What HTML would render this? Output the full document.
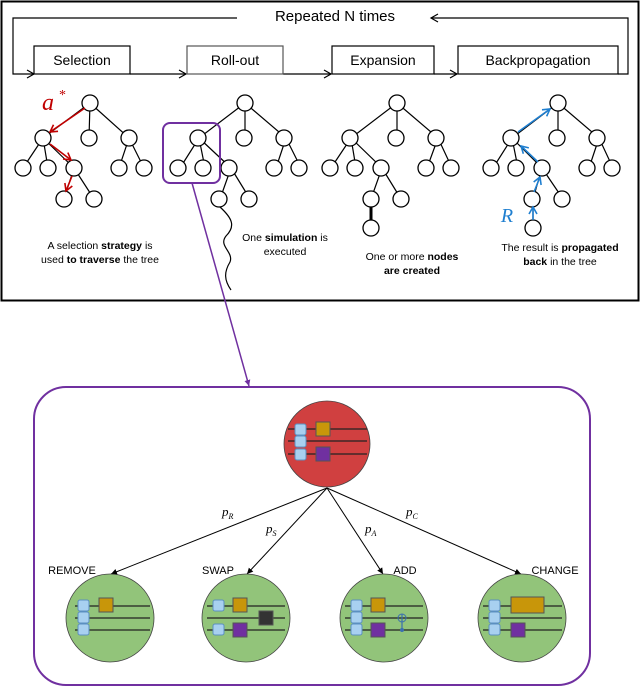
<!DOCTYPE html>
<html><head><meta charset="utf-8"><style>
body{margin:0;background:#fff;}
svg{display:block;font-family:"Liberation Sans",sans-serif;}
</style></head><body>
<svg width="640" height="687" viewBox="0 0 640 687" xmlns="http://www.w3.org/2000/svg">
<defs>
<marker id="oa" markerWidth="10" markerHeight="10" refX="8" refY="5" orient="auto" markerUnits="userSpaceOnUse"><path d="M1,1 L8,5 L1,9" fill="none" stroke="#000" stroke-width="1.2"/></marker>
<marker id="ra" markerWidth="10" markerHeight="10" refX="8" refY="5" orient="auto" markerUnits="userSpaceOnUse"><path d="M1,1 L8,5 L1,9" fill="none" stroke="#c00000" stroke-width="1.6"/></marker>
<marker id="ba" markerWidth="10" markerHeight="10" refX="8" refY="5" orient="auto" markerUnits="userSpaceOnUse"><path d="M1,1 L8,5 L1,9" fill="none" stroke="#1f7fd0" stroke-width="1.6"/></marker>
<marker id="sa" markerWidth="8" markerHeight="8" refX="6" refY="4" orient="auto" markerUnits="userSpaceOnUse"><path d="M0,1 L6,4 L0,7 z" fill="#000"/></marker>
<marker id="pa" markerWidth="8" markerHeight="8" refX="6" refY="4" orient="auto" markerUnits="userSpaceOnUse"><path d="M0,1 L6,4 L0,7 z" fill="#7030a0"/></marker>
</defs>
<rect x="1.5" y="1.5" width="637" height="299" fill="none" stroke="#000" stroke-width="2"/>
<text x="335" y="21" font-size="15" text-anchor="middle">Repeated N times</text>
<g fill="none" stroke="#000" stroke-width="1.2">
<path d="M237,18 H13 V74 H34" marker-end="url(#oa)"/>
<path d="M618,74 H628 V18 H431" marker-end="url(#oa)"/>
<path d="M130,74 H186" marker-end="url(#oa)"/>
<path d="M283,74 H331" marker-end="url(#oa)"/>
<path d="M434,74 H457" marker-end="url(#oa)"/>
</g>
<g fill="#fff" stroke="#000" stroke-width="1.2">
<rect x="34" y="46" width="96" height="28"/>
<rect x="187" y="46" width="96" height="28" stroke="#555"/>
<rect x="332" y="46" width="102" height="28"/>
<rect x="458" y="46" width="160" height="28"/>
</g>
<g font-size="14" text-anchor="middle">
<text x="82" y="65">Selection</text><text x="235" y="65">Roll-out</text>
<text x="383" y="65">Expansion</text><text x="538" y="65">Backpropagation</text>
</g>
<g stroke="#000" stroke-width="1.2" fill="none">
<path d="M90,103 L43,138 M90,103 L89,138 M90,103 L129,138 M43,138 L23,168 M43,138 L48,168 M43,138 L74,168 M129,138 L119,168 M129,138 L144,168 M74,168 L64,199 M74,168 L94,199"/>
<path d="M245,103 L199,138 M245,103 L245,138 M245,103 L286,138 M199,138 L180,168 M199,138 L205,168 M199,138 L231,168 M286,138 L276,168 M286,138 L301,168 M231,168 L220,199 M231,168 L250,199"/>
<path d="M220,207 C232,218 236,226 226,236 C218,246 234,252 230,262 C224,272 224,280 231,290"/>
<path d="M397,103 L351,138 M397,103 L397,138 M397,103 L438,138 M351,138 L331,168 M351,138 L356,168 M351,138 L382,168 M438,138 L427,168 M438,138 L452,168 M382,168 L371,199 M382,168 L401,199"/>
<path d="M371,207 V220" stroke-width="3"/>
<path d="M558,103 L512,138 M558,103 L558,138 M558,103 L599,138 M512,138 L493,168 M512,138 L518,168 M512,138 L542,168 M599,138 L589,168 M599,138 L613,168 M542,168 L533,199 M542,168 L563,199 M533,199 L533,228"/>
</g>
<g fill="#fff" stroke="#000" stroke-width="1.3">
<g id="n">
<ellipse cx="90" cy="103" rx="8" ry="8"/><ellipse cx="43" cy="138" rx="8" ry="8"/><ellipse cx="89" cy="138" rx="8" ry="8"/><ellipse cx="129" cy="138" rx="8" ry="8"/>
<ellipse cx="23" cy="168" rx="8" ry="8"/><ellipse cx="48" cy="168" rx="8" ry="8"/><ellipse cx="74" cy="168" rx="8" ry="8"/><ellipse cx="119" cy="168" rx="8" ry="8"/><ellipse cx="144" cy="168" rx="8" ry="8"/>
<ellipse cx="64" cy="199" rx="8" ry="8"/><ellipse cx="94" cy="199" rx="8" ry="8"/>
</g>
<use href="#n" x="155"/><use href="#n" x="307"/><use href="#n" x="468"/>
<ellipse cx="371" cy="228" rx="8" ry="8"/>
<ellipse cx="533" cy="228" rx="8" ry="8"/>
</g>
<g stroke="#c00000" stroke-width="1.6" fill="none">
<path d="M85,108 L50,132" marker-end="url(#ra)"/>
<path d="M50,144 L71,160" marker-end="url(#ra)"/>
<path d="M72,176 L66,191" marker-end="url(#ra)"/>
</g>
<text x="48" y="110" font-size="24" font-style="italic" font-family="Liberation Serif,serif" fill="#c00000" text-anchor="middle">a</text>
<text x="59" y="99" font-size="14" font-family="Liberation Serif,serif" fill="#c00000">*</text>
<g stroke="#1f7fd0" stroke-width="1.6" fill="none">
<path d="M518,132 L550,109" marker-end="url(#ba)"/>
<path d="M538,162 L521,146" marker-end="url(#ba)"/>
<path d="M534,192 L540,177" marker-end="url(#ba)"/>
<path d="M533,220 L533,207" marker-end="url(#ba)"/>
</g>
<text x="507" y="222" font-size="20" font-style="italic" font-family="Liberation Serif,serif" fill="#1f7fd0" text-anchor="middle">R</text>
<g font-size="10.5" text-anchor="middle">
<text x="100" y="249">A selection <tspan font-weight="bold">strategy</tspan> is</text>
<text x="100" y="263">used <tspan font-weight="bold">to traverse</tspan> the tree</text>
<text x="285" y="241">One <tspan font-weight="bold">simulation</tspan> is</text>
<text x="285" y="255">executed</text>
<text x="412" y="260">One or more <tspan font-weight="bold">nodes</tspan></text>
<text x="412" y="274"><tspan font-weight="bold">are created</tspan></text>
<text x="560" y="251">The result is <tspan font-weight="bold">propagated</tspan></text>
<text x="560" y="265"><tspan font-weight="bold">back</tspan> in the tree</text>
</g>
<rect x="163" y="123" width="57" height="60" rx="7" fill="none" stroke="#7030a0" stroke-width="2"/>
<path d="M192,183 L249,386" stroke="#7030a0" stroke-width="1.5" marker-end="url(#pa)"/>
<rect x="34" y="387" width="556" height="298" rx="32" fill="none" stroke="#7030a0" stroke-width="2"/>
<g stroke="#000" stroke-width="1" fill="none">
<path d="M327,488 L111,574" marker-end="url(#sa)"/>
<path d="M327,488 L247,574" marker-end="url(#sa)"/>
<path d="M327,488 L383,574" marker-end="url(#sa)"/>
<path d="M327,488 L521,574" marker-end="url(#sa)"/>
</g>
<g font-family="Liberation Serif,serif" font-style="italic" font-size="13">
<text x="222" y="516">p<tspan font-size="8" dy="3">R</tspan></text>
<text x="266" y="533">p<tspan font-size="8" dy="3">S</tspan></text>
<text x="365" y="533">p<tspan font-size="8" dy="3">A</tspan></text>
<text x="406" y="516">p<tspan font-size="8" dy="3">C</tspan></text>
</g>
<g font-size="11" text-anchor="middle">
<text x="72" y="574">REMOVE</text><text x="218" y="574">SWAP</text><text x="405" y="574">ADD</text><text x="555" y="574">CHANGE</text>
</g>
<ellipse cx="327" cy="444" rx="43" ry="43" fill="#d04040" stroke="#444" stroke-width="0.8"/>
<g stroke="#222" stroke-width="1.2"><path d="M288,429H367M288,441H367M288,454H367"/></g>
<g fill="#a8d0f0" stroke="#5b8fc0"><rect x="295" y="424" width="11" height="11" rx="2"/><rect x="295" y="436" width="11" height="11" rx="2"/><rect x="295" y="449" width="11" height="11" rx="2"/></g>
<rect x="316" y="422" width="14" height="14" fill="#c8960a" stroke="#555"/>
<rect x="316" y="447" width="14" height="14" fill="#7030a0" stroke="#555"/>
<g fill="#92c47a" stroke="#444" stroke-width="0.8">
<ellipse cx="110" cy="618" rx="44" ry="44"/><ellipse cx="246" cy="618" rx="44" ry="44"/>
<ellipse cx="384" cy="618" rx="44" ry="44"/><ellipse cx="522" cy="618" rx="44" ry="44"/>
</g>
<g stroke="#222" stroke-width="1.2">
<path d="M75,606H150M75,618H150M75,630H150"/>
<path d="M207,606H285M207,618H285M207,630H285"/>
<path d="M345,606H423M345,618H423M345,630H423"/>
<path d="M483,606H562M483,618H562M483,630H562"/>
</g>
<g fill="#a8d0f0" stroke="#5b8fc0">
<rect x="78" y="600" width="11" height="11" rx="2"/><rect x="78" y="612" width="11" height="11" rx="2"/><rect x="78" y="624" width="11" height="11" rx="2"/>
<rect x="213" y="600" width="11" height="11" rx="2"/><rect x="213" y="624" width="11" height="11" rx="2"/>
<rect x="351" y="600" width="11" height="11" rx="2"/><rect x="351" y="612" width="11" height="11" rx="2"/><rect x="351" y="624" width="11" height="11" rx="2"/>
<rect x="489" y="600" width="11" height="11" rx="2"/><rect x="489" y="612" width="11" height="11" rx="2"/><rect x="489" y="624" width="11" height="11" rx="2"/>
</g>
<rect x="99" y="598" width="14" height="14" fill="#c8960a" stroke="#555"/>
<rect x="233" y="598" width="14" height="14" fill="#c8960a" stroke="#555"/>
<rect x="233" y="623" width="14" height="14" fill="#7030a0" stroke="#555"/>
<rect x="259" y="611" width="14" height="14" fill="#333" stroke="#555"/>
<rect x="371" y="598" width="14" height="14" fill="#c8960a" stroke="#555"/>
<rect x="371" y="623" width="14" height="14" fill="#7030a0" stroke="#555"/>
<path d="M402,614V630" stroke="#3a6fb0" stroke-width="1.2"/>
<circle cx="402" cy="618" r="4" fill="none" stroke="#3a6fb0"/><circle cx="402" cy="630" r="2" fill="#3a6fb0"/>
<rect x="511" y="597" width="33" height="16" fill="#c8960a" stroke="#555"/>
<rect x="511" y="623" width="14" height="14" fill="#7030a0" stroke="#555"/>
</svg>
</body></html>
